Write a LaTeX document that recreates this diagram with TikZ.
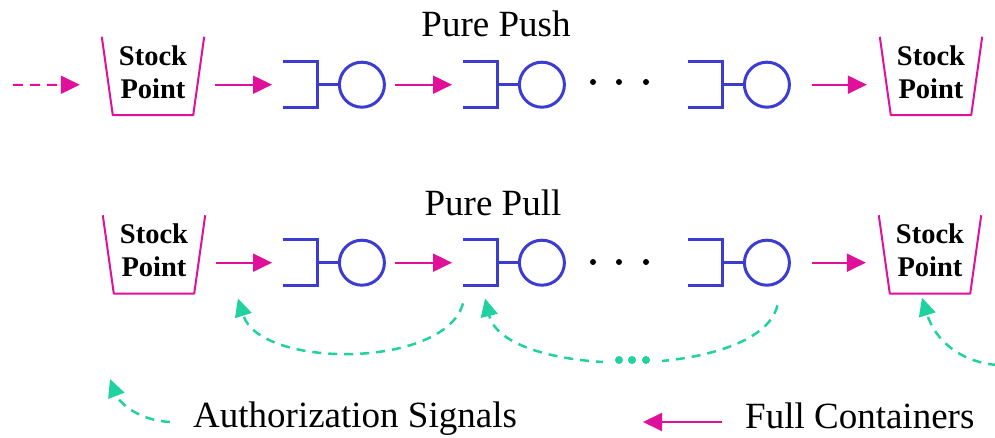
\documentclass[tikz,border=0pt]{standalone}
\usepackage{fontspec}
\setmainfont{Liberation Serif}
\usetikzlibrary{arrows.meta,calc}
\definecolor{mag}{HTML}{E0109A}
\definecolor{mblue}{HTML}{3C3CD2}
\definecolor{sig}{HTML}{20D2A0}
\begin{document}
\begin{tikzpicture}[x=1pt,y=-1pt,
 flow/.style={draw=mag, line width=2pt, -{Triangle[length=19pt,width=18pt]}},
 sigarr/.style={draw=sig, line width=2.5pt, dash pattern=on 9pt off 7pt, -{Triangle[length=18pt,width=17pt]}},
 bucketnode/.style={minimum width=80pt, minimum height=78pt, inner sep=0pt},
 bucketline/.style={draw=mag, line width=2pt, line join=round},
 stocktext/.style={font=\fontsize{28.5}{33}\selectfont\bfseries, align=center, inner sep=0pt},
 machine/.style={minimum width=101pt, minimum height=45pt, inner sep=0pt},
 mline/.style={draw=mblue, line width=3pt},
 title/.style={font=\fontsize{37}{44}\selectfont, anchor=base, inner sep=0pt},
 legend/.style={font=\fontsize{37}{44}\selectfont, anchor=base west, inner sep=0pt},
 dot/.style={circle, fill=black, minimum size=6pt, inner sep=0pt},
 gdot/.style={circle, fill=sig, minimum size=8pt, inner sep=0pt}]
\useasboundingbox (0,0) rectangle (995,438);

% titles
\node[title] (push) at (496,37) {Pure Push};
\node[title] (pull) at (493,216) {Pure Pull};

% machines
\foreach \n/\x/\y in {a1/283/62, a2/463/62, a3/688/62, b1/283/240, b2/463/240, b3/688/240} {
  \node[machine, anchor=north west] (\n) at (\x,\y) {};
  \draw[mline] (\n.north west) -| ([xshift=34pt]\n.south west) -- (\n.south west);
  \draw[mline] ([xshift=34pt]\n.west) -- ([xshift=-45pt]\n.east);
  \draw[mline] ([xshift=-22.5pt]\n.east) circle[radius=22.5pt];
}

% stock points
\foreach \n/\x/\y in {p1/153/76, p2/931/76, q1/154/254.5, q2/930/254.5} {
  \node[bucketnode] (\n) at (\x,\y) {};
  \draw[bucketline] ([xshift=-11pt]\n.north west) -- (\n.south west) -- (\n.south east) -- ([xshift=11pt]\n.north east);
  \node[stocktext] (\n-label) at ([yshift=4pt]\n.center) {Stock\\Point};
}

% dots
\node[dot] (da1) at (593,82) {};
\node[dot] (da2) at (619,82) {};
\node[dot] (da3) at (646,82) {};
\node[dot] (db1) at (593,262) {};
\node[dot] (db2) at (619,262) {};
\node[dot] (db3) at (646,262) {};

% push row flows
\coordinate (in) at (13,85);
\draw[flow, dash pattern=on 10pt off 7pt] (in) -- ($(p1.west |- a1.west)+(-33,0)$);
\draw[flow] ($(p1.east |- a1.west)+(22,0)$) -- ($(a1.west)+(-11,0)$);
\draw[flow] ($(a1.east)+(11,0)$) -- ($(a2.west)+(-11,0)$);
\draw[flow] ($(a3.east)+(23,0)$) -- ($(p2.west |- a3.east)+(-24,0)$);

% pull row flows
\draw[flow] ($(q1.east |- b1.west)+(22,0)$) -- ($(b1.west)+(-11,0)$);
\draw[flow] ($(b1.east)+(11,0)$) -- ($(b2.west)+(-11,0)$);
\draw[flow] ($(b3.east)+(23,0)$) -- ($(q2.west |- b3.east)+(-24,0)$);

% authorization signals
\draw[sigarr] ($(b2.south west)+(0,18)$) .. controls (445,369) and (260,369) .. ($(b1.south west)+(-45,13)$);
\draw[sigarr] ($(b3.south east)+(-12,20)$) .. controls (760,380) and (505,380) .. ($(b2.south west)+(22,13)$);
\fill[white] (603,345) rectangle (662,375);
\node[gdot] (g1) at (619,360) {};
\node[gdot] (g2) at (632,360) {};
\node[gdot] (g3) at (646,360) {};
\coordinate (rin) at (997,365);
\draw[sigarr] (rin) .. controls (960,362) and (935,340) .. ($(q2.south)+(-8,4)$);

% legend
\node[legend] (auth) at (193,427) {Authorization Signals};
\coordinate (lg) at (110,379);
\draw[sigarr] ($(auth.base west)+(-23,-5)$) .. controls (135,420) and (118,400) .. (lg);
\node[legend] (full) at (745,428) {Full Containers};
\coordinate (fc) at (643,422);
\draw[flow] ($(full.base west)+(-23,-6)$) -- (fc);
\end{tikzpicture}
\end{document}
